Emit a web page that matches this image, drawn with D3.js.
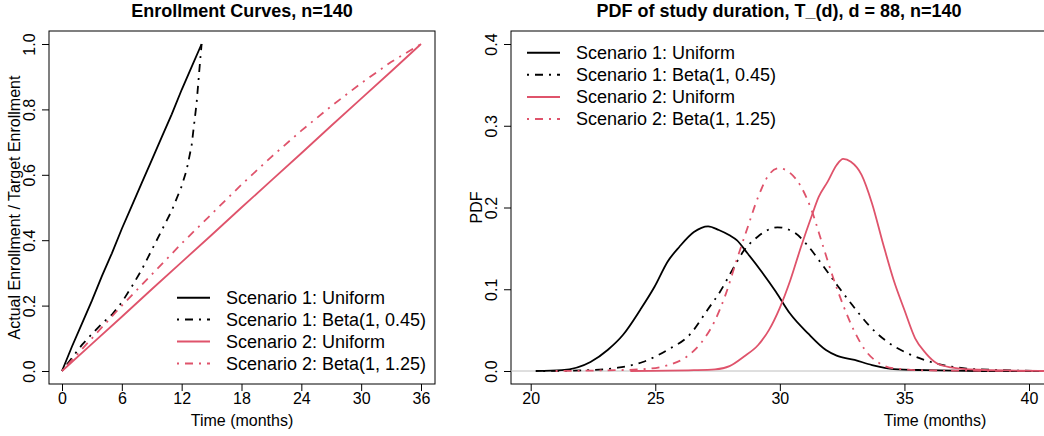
<!DOCTYPE html>
<html>
<head>
<meta charset="utf-8">
<script src="https://cdn.jsdelivr.net/npm/d3@7"></script>
<style>
  body { margin: 0; background: #fff; }
  text { font-family: "Liberation Sans", Arial, sans-serif; fill: #000; }
</style>
</head>
<body>
<script>
//SVG area dimensions:
var svgWidth = 1044;
var svgHeight = 436;
var pink = "#DF536B";

// ---- enrollment curves (left panel) ----
var s1UniformMonths = [0, 1, 2, 3, 4, 5, 6, 7, 8, 9, 10, 11, 12, 13, 14];
var s1Uniform = [0, 0.075, 0.145, 0.215, 0.29, 0.36, 0.435, 0.505, 0.575, 0.645, 0.715, 0.785, 0.86, 0.93, 1.0];
var s1BetaMonths = [0, 1, 2, 3, 4, 5, 6, 7, 8, 9, 10, 11, 12, 12.5, 13, 13.5, 13.8, 14];
var s1Beta = [0, 0.04, 0.08, 0.113, 0.145, 0.172, 0.21, 0.258, 0.31, 0.37, 0.43, 0.49, 0.565, 0.615, 0.69, 0.82, 0.93, 1.0];
var s2Months = [0, 3, 6, 9, 12, 15, 18, 21, 24, 27, 30, 33, 36];
var s2Uniform = [0, 0.083, 0.166, 0.25, 0.333, 0.416, 0.5, 0.583, 0.666, 0.75, 0.833, 0.916, 1.0];
var s2Beta = [0, 0.10, 0.20, 0.295, 0.39, 0.48, 0.57, 0.655, 0.735, 0.81, 0.88, 0.945, 1.0];

// ---- PDF of study duration (right panel) ----
var pdfS1UniformT = [20.2, 21.25, 22.4, 23.1, 23.7, 24.4, 24.97, 25.5, 25.97, 26.55, 27.12, 27.55, 27.98, 28.27, 28.7, 29.27, 29.84, 30.4, 31.13, 31.85, 32.28, 33, 33.7, 34.57, 35.86, 38, 41];
var pdfS1Uniform = [0, 0.001, 0.011, 0.026, 0.044, 0.075, 0.103, 0.134, 0.152, 0.17, 0.177, 0.1725, 0.166, 0.16, 0.144, 0.1215, 0.097, 0.0706, 0.046, 0.0257, 0.0188, 0.0135, 0.0073, 0.0024, 0.001, 0, 0];
var pdfS1BetaT = [20.5, 22.2, 23.5, 24.5, 25.5, 26.4, 27.1, 27.6, 28.1, 28.55, 29.1, 29.9, 30.6, 31.1, 31.7, 32.3, 32.9, 33.6, 34.3, 35.1, 35.8, 36.6, 37.5, 39, 41];
var pdfS1Beta = [0, 0.001, 0.004, 0.011, 0.026, 0.045, 0.075, 0.097, 0.124, 0.147, 0.164, 0.1758, 0.169, 0.154, 0.13, 0.105, 0.081, 0.055, 0.036, 0.022, 0.0135, 0.007, 0.003, 0.001, 0];
var pdfS2UniformT = [24, 26.55, 27.4, 27.98, 28.55, 29.13, 29.56, 29.99, 30.42, 30.85, 31.27, 31.56, 31.92, 32.28, 32.54, 32.85, 33.28, 33.7, 34.14, 34.57, 35, 35.43, 35.86, 36.3, 36.86, 38, 39.44, 41];
var pdfS2Uniform = [0, 0.001, 0.002, 0.006, 0.0175, 0.0318, 0.05, 0.0767, 0.111, 0.152, 0.189, 0.213, 0.2317, 0.252, 0.2594, 0.256, 0.24, 0.205, 0.156, 0.111, 0.0746, 0.04, 0.0216, 0.0094, 0.0045, 0.0015, 0.0005, 0];
var pdfS2BetaT = [21, 23, 24.4, 25.54, 26.26, 26.83, 27.4, 27.84, 28.27, 28.7, 29.13, 29.56, 29.96, 30.42, 30.85, 31.27, 31.7, 32.13, 32.56, 33, 33.42, 34, 34.57, 35.86, 38, 41];
var pdfS2Beta = [0, 0.0008, 0.002, 0.0073, 0.0175, 0.034, 0.062, 0.095, 0.136, 0.175, 0.213, 0.24, 0.248, 0.242, 0.2255, 0.197, 0.156, 0.115, 0.079, 0.048, 0.0257, 0.0094, 0.0033, 0.0008, 0.0003, 0];

// legend + ticks
var seriesLabels = ["Scenario 1: Uniform", "Scenario 1: Beta(1, 0.45)", "Scenario 2: Uniform", "Scenario 2: Beta(1, 1.25)"];
var seriesColors = ["#000", "#000", pink, pink];
var seriesDash = [null, "2,6,8,6", null, "2,6,8,6"];
var leftXTicks = [0, 6, 12, 18, 24, 30, 36];
var leftYTicks = [0, 0.2, 0.4, 0.6, 0.8, 1.0];
var rightXTicks = [20, 25, 30, 35, 40];
var rightYTicks = [0, 0.1, 0.2, 0.3, 0.4];

var svg = d3.select("body")
  .append("svg")
  .attr("width", svgWidth)
  .attr("height", svgHeight);

svg.append("rect").attr("width", svgWidth).attr("height", svgHeight).attr("fill", "#fff");

var fmt1 = d3.format(".1f");

//draws box, axes, titles for one panel
function drawFrame(box, xScale, yScale, xTicks, yTicks, yFmt, title, xLabel, yLabel, clipId) {
  var g = svg.append("g");

  svg.append("clipPath").attr("id", clipId)
    .append("rect")
    .attr("x", box.left).attr("y", box.top)
    .attr("width", box.right - box.left).attr("height", box.bottom - box.top);

  g.append("rect")
    .attr("x", box.left).attr("y", box.top)
    .attr("width", box.right - box.left).attr("height", box.bottom - box.top)
    .attr("fill", "none").attr("stroke", "#000").attr("stroke-width", 1);

  var xAxis = g.append("g")
    .attr("transform", `translate(0, ${box.bottom})`)
    .call(d3.axisBottom(xScale).tickValues(xTicks).tickSize(7).tickFormat(d3.format("d")));
  xAxis.select(".domain").remove();
  xAxis.selectAll("line").attr("stroke", "#000");
  xAxis.selectAll("text")
    .attr("y", 20).attr("dy", null)
    .style("font-size", "16px").style("font-family", "Liberation Sans, Arial, sans-serif");

  var yAxis = g.append("g")
    .attr("transform", `translate(${box.left}, 0)`)
    .call(d3.axisLeft(yScale).tickValues(yTicks).tickSize(7).tickFormat(yFmt));
  yAxis.select(".domain").remove();
  yAxis.selectAll("line").attr("stroke", "#000");
  yAxis.selectAll("text")
    .attr("x", null).attr("dy", null)
    .attr("transform", "translate(-14,0) rotate(-90)")
    .attr("text-anchor", "middle")
    .style("font-size", "16px").style("font-family", "Liberation Sans, Arial, sans-serif");

  g.append("text")
    .attr("x", (box.left + box.right) / 2).attr("y", 16.5)
    .attr("text-anchor", "middle")
    .style("font-size", "18px").style("font-weight", "bold")
    .text(title);

  g.append("text")
    .attr("x", (box.left + 435) / 2 + (box.left - 49)).attr("y", 426)
    .attr("text-anchor", "middle")
    .style("font-size", "16px")
    .text(xLabel);

  g.append("text")
    .attr("transform", `translate(${box.left - 29}, ${(box.top + box.bottom) / 2}) rotate(-90)`)
    .attr("text-anchor", "middle")
    .style("font-size", "16px")
    .text(yLabel);
}

function drawLegend(x0, y0, step) {
  var lg = svg.append("g");
  seriesLabels.forEach(function(lab, i) {
    var y = y0 + i * step;
    lg.append("line")
      .attr("x1", x0).attr("x2", x0 + 33)
      .attr("y1", y).attr("y2", y)
      .attr("stroke", seriesColors[i]).attr("stroke-width", 2)
      .attr("stroke-dasharray", seriesDash[i]);
    lg.append("text")
      .attr("x", x0 + 49).attr("y", y + 6.4)
      .style("font-size", "18px")
      .text(lab);
  });
}

function drawCurve(clipId, xs, ys, xScale, yScale, i, curve) {
  var line = d3.line()
    .x(d => xScale(d[0]))
    .y(d => yScale(d[1]))
    .curve(curve);
  svg.append("path")
    .datum(d3.zip(xs, ys))
    .attr("clip-path", `url(#${clipId})`)
    .attr("d", line)
    .attr("fill", "none")
    .attr("stroke", seriesColors[i])
    .attr("stroke-width", 1.8)
    .attr("stroke-dasharray", seriesDash[i]);
}

// left panel
var leftBox = { left: 49, right: 435, top: 31, bottom: 384 };
var xLeft = d3.scaleLinear().domain([0, 36]).range([62, 421]);
var yLeft = d3.scaleLinear().domain([0, 1]).range([371, 44]);

drawFrame(leftBox, xLeft, yLeft, leftXTicks, leftYTicks, fmt1,
  "Enrollment Curves, n=140", "Time (months)", "Actual Enrollment / Target Enrollment", "clipL");

drawCurve("clipL", s1UniformMonths, s1Uniform, xLeft, yLeft, 0, d3.curveLinear);
drawCurve("clipL", s1BetaMonths, s1Beta, xLeft, yLeft, 1, d3.curveLinear);
drawCurve("clipL", s2Months, s2Uniform, xLeft, yLeft, 2, d3.curveLinear);
drawCurve("clipL", s2Months, s2Beta, xLeft, yLeft, 3, d3.curveLinear);
drawLegend(177, 297.7, 21.9);

// right panel
var rightBox = { left: 511, right: 1047, top: 31, bottom: 384 };
var xRight = d3.scaleLinear().domain([20, 40]).range([530.7, 1029]);
var yRight = d3.scaleLinear().domain([0, 0.4]).range([371, 44]);

drawFrame(rightBox, xRight, yRight, rightXTicks, rightYTicks, fmt1,
  "PDF of study duration, T_(d), d = 88, n=140", "Time (months)", "PDF", "clipR");

svg.append("line")
  .attr("x1", rightBox.left).attr("x2", rightBox.right)
  .attr("y1", yRight(0)).attr("y2", yRight(0))
  .attr("stroke", "#BEBEBE").attr("stroke-width", 1);

drawCurve("clipR", pdfS1UniformT, pdfS1Uniform, xRight, yRight, 0, d3.curveMonotoneX);
drawCurve("clipR", pdfS1BetaT, pdfS1Beta, xRight, yRight, 1, d3.curveMonotoneX);
drawCurve("clipR", pdfS2UniformT, pdfS2Uniform, xRight, yRight, 2, d3.curveMonotoneX);
drawCurve("clipR", pdfS2BetaT, pdfS2Beta, xRight, yRight, 3, d3.curveMonotoneX);
drawLegend(527, 52.7, 22.1);
</script>
</body>
</html>
